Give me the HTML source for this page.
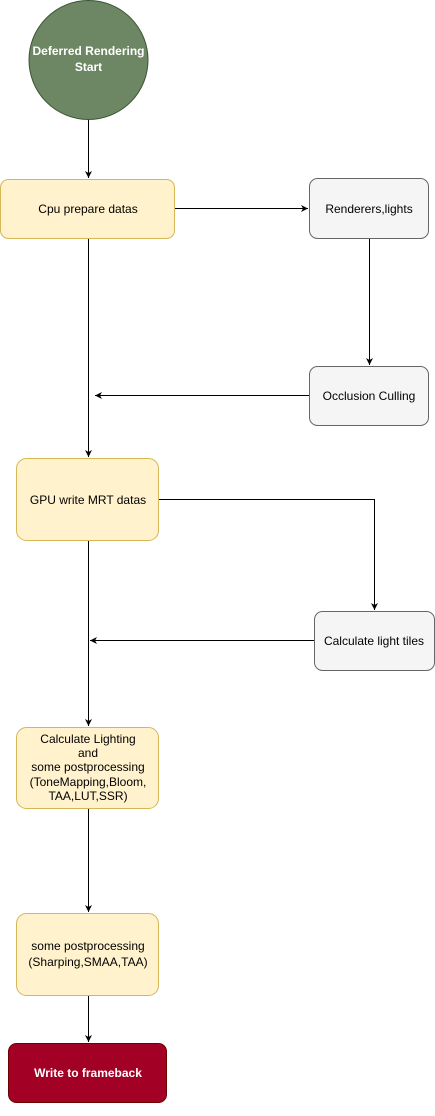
<!DOCTYPE html>
<html><head><meta charset="utf-8"><style>
body{margin:0;background:#fff;width:435px;height:1111px;overflow:hidden;font-family:"Liberation Sans",Arial,sans-serif}
</style></head><body>
<svg width="435" height="1111" xmlns="http://www.w3.org/2000/svg" font-family="Liberation Sans, Arial, sans-serif" font-size="12">
<defs><marker id="a" markerWidth="8" markerHeight="8" refX="7" refY="4" orient="auto" markerUnits="userSpaceOnUse"><path d="M0,0.5 L7,4 L0,7.5 L2,4 Z" fill="#000"/></marker></defs>
<g stroke="#000" fill="none" stroke-width="1">
<line x1="88.5" y1="120" x2="88.5" y2="178" marker-end="url(#a)"/>
<line x1="175" y1="208.5" x2="308" y2="208.5" marker-end="url(#a)"/>
<line x1="369.5" y1="238" x2="369.5" y2="365" marker-end="url(#a)"/>
<line x1="309" y1="395.5" x2="95" y2="395.5" marker-end="url(#a)"/>
<line x1="88.5" y1="238" x2="88.5" y2="457" marker-end="url(#a)"/>
<polyline points="159,499.5 374.5,499.5 374.5,610" marker-end="url(#a)"/>
<line x1="314" y1="640.5" x2="90" y2="640.5" marker-end="url(#a)"/>
<line x1="88.5" y1="540" x2="88.5" y2="726" marker-end="url(#a)"/>
<line x1="88.5" y1="808" x2="88.5" y2="912" marker-end="url(#a)"/>
<line x1="88.5" y1="995" x2="88.5" y2="1042" marker-end="url(#a)"/>
</g>
<circle cx="88.5" cy="60" r="59.5" fill="#6d8764" stroke="#3a5431"/>
<text x="88.5" y="55" text-anchor="middle" fill="#fff" font-weight="bold">Deferred Rendering</text>
<text x="88.5" y="71" text-anchor="middle" fill="#fff" font-weight="bold">Start</text>
<g fill="#fff2cc" stroke="#d6b656">
<rect x="0.5" y="179.5" width="174" height="59" rx="8"/>
<rect x="16.5" y="458.5" width="142" height="82" rx="10"/>
<rect x="16.5" y="727.5" width="142" height="81" rx="10"/>
<rect x="16.5" y="913.5" width="142" height="82" rx="10"/>
</g>
<g fill="#f5f5f5" stroke="#666">
<rect x="309.5" y="178.5" width="119" height="60" rx="8"/>
<rect x="309.5" y="366.5" width="119" height="59" rx="8"/>
<rect x="314.5" y="611.5" width="120" height="59" rx="8"/>
</g>
<rect x="8.5" y="1043.5" width="158" height="59" rx="8" fill="#a20025" stroke="#6f0000"/>
<g text-anchor="middle" fill="#000">
<text x="88" y="213">Cpu prepare datas</text>
<text x="369" y="213">Renderers,lights</text>
<text x="369" y="400">Occlusion Culling</text>
<text x="88" y="504">GPU write MRT datas</text>
<text x="374" y="645">Calculate light tiles</text>
<text x="88" y="743">Calculate Lighting</text>
<text x="88" y="757">and</text>
<text x="88" y="771">some postprocessing</text>
<text x="88" y="786">(ToneMapping,Bloom,</text>
<text x="88" y="800">TAA,LUT,SSR)</text>
<text x="88" y="950">some postprocessing</text>
<text x="88" y="966">(Sharping,SMAA,TAA)</text>
<text x="88" y="1077" fill="#fff" font-weight="bold">Write to frameback</text>
</g>
</svg>
</body></html>
